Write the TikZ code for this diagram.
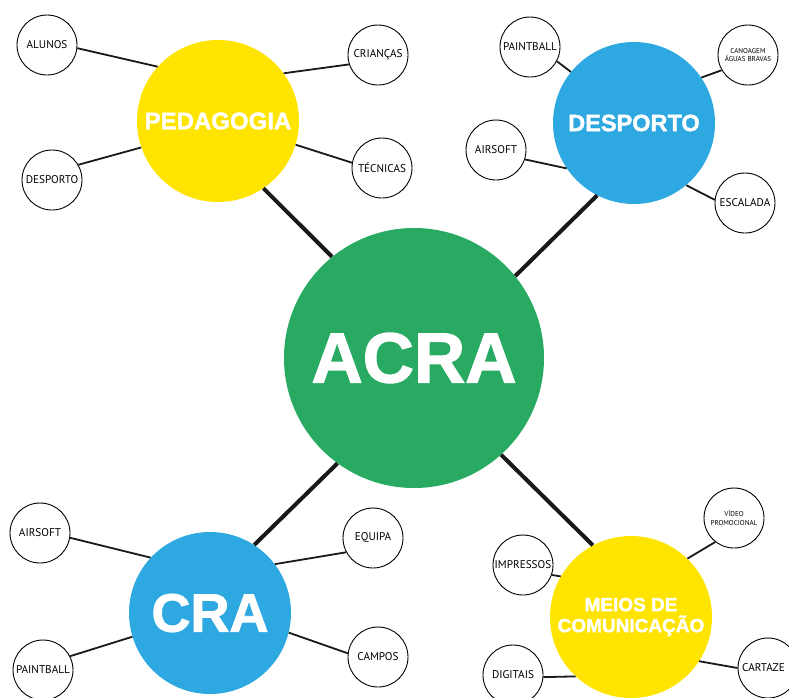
\documentclass[tikz,border=0pt]{standalone}
\usepackage{fontspec}
\setmainfont{Liberation Sans}
\newfontfamily\lblfont{PT Sans}
\newfontfamily\heavyfont{Liberation Sans Bold}[FakeBold=1.6]
\definecolor{acragreen}{RGB}{40,170,98}
\definecolor{hubyellow}{RGB}{255,228,0}
\definecolor{hubblue}{RGB}{46,168,224}
\begin{document}
\begin{tikzpicture}[x=1pt,y=-1pt,
  hub/.style={circle,inner sep=0pt,minimum size=162pt,text=white},
  leaf/.style={circle,draw=black,line width=0.9pt,fill=white,inner sep=0pt,minimum size=60pt,
    font=\lblfont\fontsize{11.2}{12}\selectfont,align=center},
  tiny/.style={font=\lblfont\fontsize{7.1}{8.2}\selectfont},
  twig/.style={line width=1.8pt,draw=black!90},
  branch/.style={line width=4pt,draw=black!90}]
\clip (0,0) rectangle (789,697);
\fill[white] (0,0) rectangle (789,697);

% hubs
\node[hub,fill=acragreen,minimum size=260pt,font=\heavyfont\fontsize{71}{71}\selectfont] (acra) at (414,358) {ACRA};
\node[hub,fill=hubyellow,font=\heavyfont\fontsize{24}{24}\selectfont] (ped) at (218,121) {PEDAGOGIA};
\node[hub,fill=hubblue,font=\heavyfont\fontsize{23.5}{23.5}\selectfont] (desp) at (634,123) {DESPORTO};
\node[hub,fill=hubblue,font=\heavyfont\fontsize{54}{54}\selectfont] (cra) at (210,613) {CRA};
\node[hub,fill=hubyellow,font=\heavyfont\fontsize{19}{21}\selectfont,align=center] (meios) at (631,617) {MEIOS DE\\COMUNICAÇÃO};

% leaves: pedagogia
\node[leaf] (al) at (47,45) {ALUNOS};
\node[leaf] (cr) at (378,55) {CRIANÇAS};
\node[leaf] (dp) at (52,180) {DESPORTO};
\node[leaf] (tc) at (382,168) {TÉCNICAS};
% leaves: desporto
\node[leaf] (pb) at (530,47) {PAINTBALL};
\node[leaf,tiny] (cn) at (748,55) {CANOAGEM\\ÁGUAS BRAVAS};
\node[leaf] (as) at (496,150) {AIRSOFT};
\node[leaf] (es) at (745,203) {ESCALADA};
% leaves: cra
\node[leaf] (asb) at (40,533) {AIRSOFT};
\node[leaf] (eq) at (373,538) {EQUIPA};
\node[leaf] (pbb) at (43,670) {PAINTBALL};
\node[leaf] (cp) at (378,657) {CAMPOS};
% leaves: meios
\node[leaf,tiny] (vd) at (734,518) {VÍDEO\\PROMOCIONAL};
\node[leaf] (im) at (523,565) {IMPRESSOS};
\node[leaf] (dg) at (513,675) {DIGITAIS};
\node[leaf] (ct) at (768,668) {};
\node[anchor=west,inner sep=0pt,font=\lblfont\fontsize{11.2}{12}\selectfont] (cttext) at (742,668) {CARTAZE};

% connectors
\draw[twig] (al.-6) -- (ped.138);
\draw[twig] (cr.198) -- (ped.36);
\draw[twig] (dp.30) -- (ped.199);
\draw[twig] (tc.170) -- (ped.-17);
\draw[branch] (ped.-56) -- (acra.129);

\draw[twig] (pb.-28) -- (desp.141);
\draw[twig] (cn.210) -- (desp.34);
\draw[twig] (as.-18) -- (desp.214);
\draw[twig] (es.174) -- (desp.-50);
\draw[branch] (desp.243) -- (acra.39);

\draw[twig] (asb.-9) -- (cra.137);
\draw[twig] (eq.208) -- (cra.37);
\draw[twig] (pbb.27) -- (cra.197);
\draw[twig] (cp.173) -- (cra.-14);
\draw[branch] (cra.57) -- (acra.234);

\draw[twig] (vd.232) -- (meios.46);
\draw[twig] (im.-19) -- (meios.150);
\draw[twig] (dg.-4) -- (meios.227);
\draw[twig] (ct.180) -- (meios.-33);
\draw[branch] (acra.-48) -- (meios.118);
\end{tikzpicture}
\end{document}
